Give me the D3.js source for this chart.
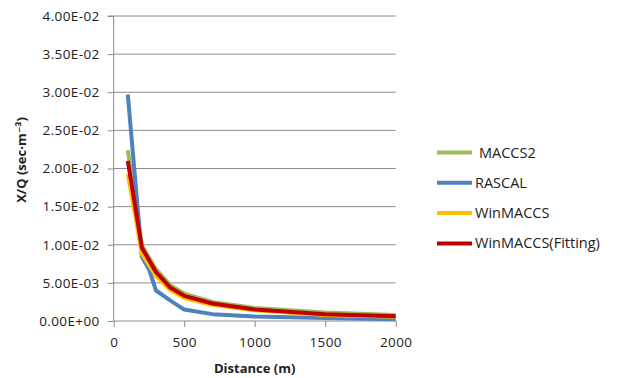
<!DOCTYPE html>
<html>
<head>
<meta charset="utf-8">
<script src="https://cdn.jsdelivr.net/npm/d3@7"></script>
<style>
  html, body { margin: 0; padding: 0; background: #fff; }
  svg { display: block; }
  text { font-family: "Open Sans", "DejaVu Sans", sans-serif; fill: #222; }
</style>
</head>
<body>
<svg id="chart" width="617" height="378"></svg>
<script>
// ---- Data ----
const seriesNames = ["MACCS2", "RASCAL", "WinMACCS", "WinMACCS(Fitting)"];
const seriesColors = ["#9BBB59", "#4F81BD", "#FFC000", "#C00000"];

const maccs2Dist = [100, 200, 300, 400, 500, 700, 1000, 1500, 2000];
const maccs2Vals = [0.0224, 0.0099, 0.0068, 0.0047, 0.0036, 0.0025, 0.0017, 0.0011, 0.00078];

const rascalDist = [100, 200, 250, 300, 400, 500, 700, 1000, 1500, 2000];
const rascalVals = [0.0297, 0.0084, 0.0068, 0.0040, 0.0027, 0.0015, 0.0009, 0.0006, 0.0004, 0.00022];

const winmaccsDist = [100, 200, 300, 400, 500, 700, 1000, 1500, 2000];
const winmaccsVals = [0.0193, 0.0088, 0.0059, 0.0041, 0.0030, 0.0021, 0.0014, 0.0008, 0.00055];

const fittingDist = [100, 200, 300, 400, 500, 700, 1000, 1500, 2000];
const fittingVals = [0.0210, 0.0096, 0.0064, 0.0044, 0.0033, 0.0023, 0.0015, 0.0009, 0.00062];

const xTicks = [0, 500, 1000, 1500, 2000];
const yTicks = [0, 0.005, 0.01, 0.015, 0.02, 0.025, 0.03, 0.035, 0.04];

const xTitle = "Distance (m)";
const yTitle = "X/Q (sec\u00B7m\u207B\u00B3)";

// ---- Chart ----
const svg = d3.select("#chart");
const x = d3.scaleLinear().domain([0, 2000]).range([113.7, 395.7]);
const y = d3.scaleLinear().domain([0, 0.04]).range([321, 16]);

function sci(v) {
  if (v === 0) return "0.00E+00";
  const s = v.toExponential(2).split("e");
  const e = parseInt(s[1], 10);
  const sign = e < 0 ? "-" : "+";
  const abs = Math.abs(e);
  return s[0] + "E" + sign + (abs < 10 ? "0" + abs : abs);
}

// gridlines
svg.append("g")
  .selectAll("line")
  .data(yTicks.filter(d => d > 0))
  .join("line")
  .attr("x1", x(0)).attr("x2", x(2000))
  .attr("y1", d => y(d)).attr("y2", d => y(d))
  .attr("stroke", "#8c8c8c").attr("stroke-width", 1);

// y axis
const yAxis = svg.append("g")
  .attr("transform", `translate(${x(0)},0)`)
  .call(d3.axisLeft(y).tickValues(yTicks).tickFormat(sci).tickSize(6).tickPadding(8));
yAxis.select(".domain").attr("stroke", "#8c8c8c").attr("d", `M-6,${y(0.04)}H0V${y(0)}`);
yAxis.selectAll(".tick line").attr("stroke", "#8c8c8c");
yAxis.selectAll("text").style("font-size", "13.5px").style("letter-spacing", "0.4px");

// x axis
const xAxis = svg.append("g")
  .attr("transform", `translate(0,${y(0)})`)
  .call(d3.axisBottom(x).tickValues(xTicks).tickFormat(d3.format("d")).tickSize(6).tickPadding(10));
xAxis.select(".domain").attr("stroke", "#8c8c8c").attr("d", `M${x(0)},0H${x(2000)}`);
xAxis.selectAll(".tick line").attr("stroke", "#8c8c8c");
xAxis.selectAll("text").style("font-size", "13.5px").style("letter-spacing", "0.4px");

// series
const allSeries = [
  { name: seriesNames[0], color: seriesColors[0], dist: maccs2Dist, vals: maccs2Vals },
  { name: seriesNames[1], color: seriesColors[1], dist: rascalDist, vals: rascalVals },
  { name: seriesNames[2], color: seriesColors[2], dist: winmaccsDist, vals: winmaccsVals },
  { name: seriesNames[3], color: seriesColors[3], dist: fittingDist, vals: fittingVals }
];
const line = d3.line().x(d => x(d[0])).y(d => y(d[1]));
svg.append("g")
  .selectAll("path")
  .data(allSeries)
  .join("path")
  .attr("d", s => line(s.dist.map((d, i) => [d, s.vals[i]])))
  .attr("fill", "none")
  .attr("stroke", s => s.color)
  .attr("stroke-width", 4)
  .attr("stroke-linejoin", "round");

// titles
svg.append("text")
  .attr("x", (x(0) + x(2000)) / 2).attr("y", 373)
  .attr("text-anchor", "middle")
  .style("font-size", "13px").style("font-weight", "bold")
  .text(xTitle);
svg.append("text")
  .attr("transform", `translate(26,160) rotate(-90)`)
  .attr("text-anchor", "middle")
  .style("font-size", "13px").style("font-weight", "bold")
  .text(yTitle);

// legend
const legend = svg.append("g").selectAll("g")
  .data(allSeries)
  .join("g")
  .attr("transform", (d, i) => `translate(437,${152.5 + i * 30.3})`);
legend.append("line")
  .attr("x1", 0).attr("x2", 35)
  .attr("stroke", d => d.color).attr("stroke-width", 4);
legend.append("text")
  .attr("x", (d, i) => i === 0 ? 42 : 38)
  .attr("dy", "0.35em")
  .style("font-size", "14.5px")
  .text(d => d.name);
</script>
</body>
</html>
